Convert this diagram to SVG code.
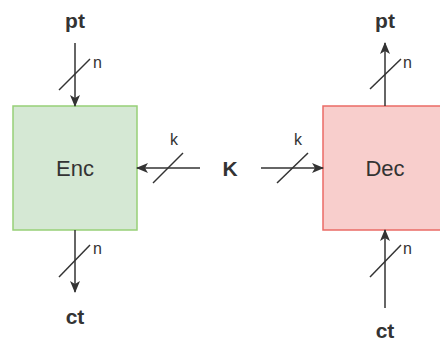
<svg xmlns="http://www.w3.org/2000/svg" width="440" height="341" viewBox="0 0 440 341">
<style>
.big{font-family:"Liberation Sans",Arial,sans-serif;font-size:21px;font-weight:bold;fill:#333;text-anchor:middle}
.lbl{font-family:"Liberation Sans",Arial,sans-serif;font-size:22px;fill:#333;text-anchor:middle}
.sm{font-family:"Liberation Sans",Arial,sans-serif;font-size:16px;fill:#333}
.ln{stroke:#333;stroke-width:1.5;fill:none}
</style>
<defs>
<marker id="ah" viewBox="0 0 12 10" refX="11" refY="5" markerWidth="12" markerHeight="10" markerUnits="userSpaceOnUse" orient="auto">
<path d="M0,0 L12,5 L0,10 L3,5 z" fill="#333"/>
</marker>
</defs>
<g id="enc"><rect x="13" y="106" width="124" height="124" fill="#d5e8d4" stroke="#97d077" stroke-width="1.5"/><text class="lbl" x="75" y="176">Enc</text></g>
<g id="dec"><rect x="323" y="106" width="124" height="124" fill="#f8cecc" stroke="#ea6b66" stroke-width="1.5"/><text class="lbl" x="385" y="176">Dec</text></g>
<g id="pt1"><text class="big" x="75" y="28">pt</text></g>
<g id="pt2"><text class="big" x="385" y="28">pt</text></g>
<g id="ct1"><text class="big" x="75" y="324">ct</text></g>
<g id="ct2"><text class="big" x="385" y="338">ct</text></g>
<g id="key"><text class="big" x="230" y="176">K</text></g>
<g id="connectors">
<line class="ln" x1="75" y1="43" x2="75" y2="106" marker-end="url(#ah)"/>
<line class="ln" x1="59" y1="90" x2="90" y2="59"/>
<text class="sm" x="93" y="68">n</text>
<line class="ln" x1="75" y1="230" x2="75" y2="292" marker-end="url(#ah)"/>
<line class="ln" x1="59" y1="277" x2="90" y2="245"/>
<text class="sm" x="93" y="254">n</text>
<line class="ln" x1="200" y1="168" x2="137" y2="168" marker-end="url(#ah)"/>
<line class="ln" x1="153" y1="183" x2="183" y2="153"/>
<text class="sm" x="170" y="145">k</text>
<line class="ln" x1="261" y1="168" x2="323" y2="168" marker-end="url(#ah)"/>
<line class="ln" x1="277" y1="183" x2="308" y2="153"/>
<text class="sm" x="294" y="145">k</text>
<line class="ln" x1="385" y1="106" x2="385" y2="43" marker-end="url(#ah)"/>
<line class="ln" x1="370" y1="89" x2="401" y2="59"/>
<text class="sm" x="403" y="68">n</text>
<line class="ln" x1="385" y1="308" x2="385" y2="230" marker-end="url(#ah)"/>
<line class="ln" x1="370" y1="277" x2="401" y2="245"/>
<text class="sm" x="403" y="254">n</text>
</g>
</svg>
